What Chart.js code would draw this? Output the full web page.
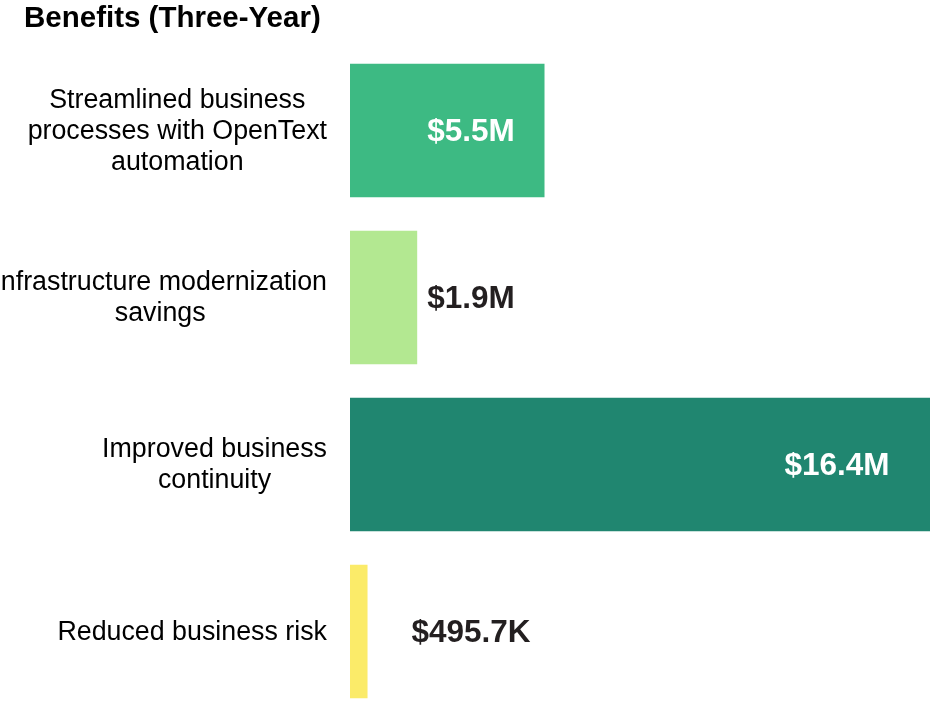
<!DOCTYPE html>
<html>
<head>
<meta charset="utf-8">
<script src="https://cdn.jsdelivr.net/npm/chart.js"></script>
<style>
  html, body { margin: 0; padding: 0; background: #fff; overflow: hidden; }
  #wrap { width: 930px; height: 716px; position: relative; }
</style>
</head>
<body>
<div id="wrap"><canvas id="benefits"></canvas></div>
<script>
const title = 'Benefits (Three-Year)'
const categories = [
    ['Streamlined business', 'processes with OpenText', 'automation'],
    ['Infrastructure modernization', 'savings'],
    ['Improved business', 'continuity'],
    ['Reduced business risk']
]
// millions of dollars
const values = [5.5, 1.9, 16.4, 0.4957]
const valueLabels = ['$5.5M', '$1.9M', '$16.4M', '$495.7K']
const barColors = ['#3dba83', '#b3e891', '#208670', '#fbeb69']
const labelColors = ['#ffffff', '#231f20', '#ffffff', '#231f20']

const textFont = '"Liberation Sans", Arial, sans-serif'

const labelsPlugin = {
    id: 'labels',
    afterDraw(chart) {
        const ctx = chart.ctx
        const yScale = chart.scales.y
        const area = chart.chartArea
        ctx.save()

        // title
        ctx.fillStyle = '#000000'
        ctx.font = 'bold 29.5px ' + textFont
        ctx.textAlign = 'left'
        ctx.textBaseline = 'alphabetic'
        ctx.fillText(title, 24, 27)

        // category labels, each block centered, right edge near the bars
        ctx.font = '26.8px ' + textFont
        ctx.fillStyle = '#000000'
        ctx.textAlign = 'center'
        ctx.textBaseline = 'middle'
        const lineH = 31
        categories.forEach((lines, i) => {
            const cy = yScale.getPixelForValue(i) + 1
            let w = 0
            lines.forEach(l => { w = Math.max(w, ctx.measureText(l).width) })
            const cx = area.left - 23 - w / 2
            const top = cy - (lines.length - 1) * lineH / 2
            lines.forEach((l, j) => ctx.fillText(l, cx, top + j * lineH))
        })

        // value labels
        ctx.font = 'bold 31.5px ' + textFont
        const meta = chart.getDatasetMeta(0)
        meta.data.forEach((bar, i) => {
            const len = bar.x - bar.base
            const cx = len > 400 ? bar.x - 93 : area.left + 121
            ctx.fillStyle = labelColors[i]
            ctx.fillText(valueLabels[i], cx, bar.y + 2)
        })
        ctx.restore()
    }
}

new Chart(document.getElementById('benefits'), {
    type: 'bar',
    data: {
        labels: categories,
        datasets: [{
            data: values,
            backgroundColor: barColors,
            borderWidth: 0,
            barPercentage: 0.8,
            categoryPercentage: 1
        }]
    },
    options: {
        indexAxis: 'y',
        responsive: true,
        maintainAspectRatio: false,
        animation: false,
        layout: {
            padding: { left: 350, top: 47, right: 0, bottom: 1 }
        },
        plugins: {
            legend: { display: false },
            tooltip: { enabled: false },
            title: { display: false }
        },
        scales: {
            x: {
                display: false,
                min: 0,
                max: 16.4,
                grid: { display: false }
            },
            y: {
                display: false,
                grid: { display: false }
            }
        }
    },
    plugins: [labelsPlugin]
})
</script>
</body>
</html>
